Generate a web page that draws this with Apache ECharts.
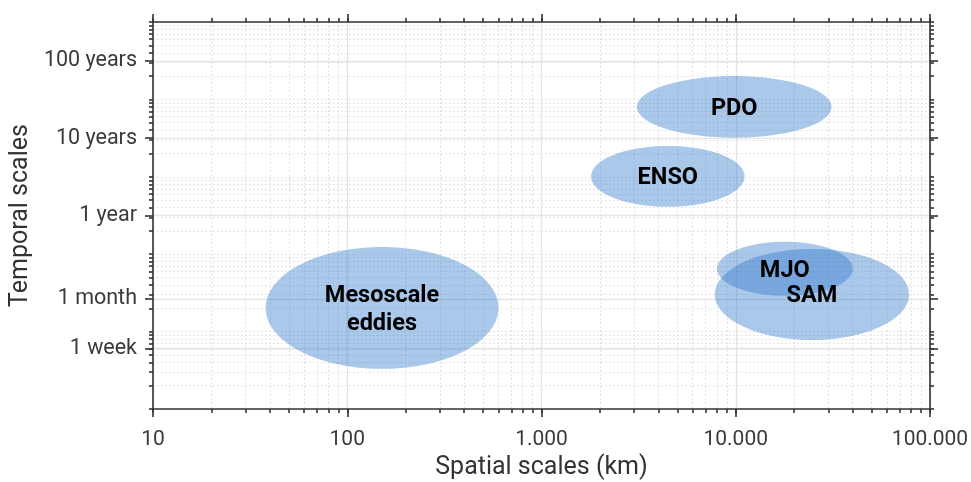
<!DOCTYPE html>
<html>
<head>
<meta charset="utf-8">
<script src="https://cdn.jsdelivr.net/npm/echarts@6/dist/echarts.min.js"></script>
<style>
html,body{margin:0;padding:0;background:#fff;}
#chart{width:971px;height:482px;}
</style>
</head>
<body>
<div id="chart"></div>
<script>
// ---- data ----
const phenomena = ['Mesoscale\neddies', 'ENSO', 'PDO', 'MJO', 'SAM'];
const spaceMinKm = [38, 1800, 3100, 8000, 7800];
const spaceMaxKm = [600, 11100, 31100, 40000, 78000];
const timeMinSec = [3.3e5, 4.1e7, 3.2e8, 2.9e6, 7.8e5];
const timeMaxSec = [1.24e7, 2.5e8, 2.0e9, 1.45e7, 1.17e7];

const xMajorTicks = [10, 100, 1000, 10000, 100000];
const yTickValues = [604800, 2629800, 31557600, 315576000, 3155760000];
const yTickLabels = ['1 week', '1 month', '1 year', '10 years', '100 years'];

const xRange = [10, 100000];
const yRange = [1e5, 1e10];

function logMinor(lo, hi) {
  const out = [];
  for (let k = Math.floor(Math.log10(lo)); k <= Math.ceil(Math.log10(hi)); k++) {
    for (let m = 1; m <= 9; m++) {
      const v = m * Math.pow(10, k);
      if (v >= lo * 0.999 && v <= hi * 1.001) out.push(v);
    }
  }
  return out;
}
const xMinor = logMinor(xRange[0], xRange[1]);
const yMinor = logMinor(yRange[0], yRange[1]);

function fmtThousands(v) {
  return String(Math.round(v)).replace(/\B(?=(\d{3})+(?!\d))/g, '.');
}
function yLabel(v) {
  let best = 0, bd = Infinity;
  yTickValues.forEach((t, i) => { const d = Math.abs(Math.log10(t) - Math.log10(v)); if (d < bd) { bd = d; best = i; } });
  return yTickLabels[best];
}

const AX = '#333333';
const FONT = 'Roboto';
const lineW = 1.6;

const rows = phenomena.map((n, i) => [spaceMinKm[i], spaceMaxKm[i], timeMinSec[i], timeMaxSec[i], n]);

function baseAxis(extra) {
  return Object.assign({
    type: 'log', logBase: 10,
    axisLine: {show: true, lineStyle: {color: AX, width: lineW}},
    axisTick: {show: true, inside: false, length: 8, lineStyle: {color: AX, width: lineW}},
    axisLabel: {show: false},
    splitLine: {show: false},
    minorTick: {show: false},
    minorSplitLine: {show: false}
  }, extra);
}

const option = {
  animation: false,
  backgroundColor: '#ffffff',
  grid: {left: 153, right: 41, top: 22, bottom: 73, containLabel: false, outerBoundsMode: 'none'},
  xAxis: [
    baseAxis({
      position: 'bottom', min: xRange[0], max: xRange[1],
      name: 'Spatial scales (km)', nameLocation: 'middle', nameGap: 46,
      nameTextStyle: {fontFamily: FONT, fontSize: 25, color: AX},
      axisTick: {show: true, inside: false, length: 8, customValues: xMajorTicks, lineStyle: {color: AX, width: lineW}},
      axisLabel: {show: true, customValues: xMajorTicks, margin: 20, fontFamily: FONT, fontSize: 21, color: '#3a3a3a',
        formatter: v => fmtThousands(v)},
      splitLine: {show: true, lineStyle: {color: '#e6e6e6', width: 1.3, type: 'solid'}}
    }),
    baseAxis({
      position: 'bottom', min: xRange[0], max: xRange[1],
      axisLine: {show: false},
      axisTick: {show: true, inside: false, length: 4, customValues: xMinor, lineStyle: {color: AX, width: lineW}},
      splitLine: {show: true, lineStyle: {color: '#dcdcdc', width: 1, type: [1.5, 2.5]}}
    }),
    baseAxis({
      position: 'top', min: xRange[0], max: xRange[1],
      axisTick: {show: true, inside: false, length: 8, customValues: xMajorTicks, lineStyle: {color: AX, width: lineW}}
    }),
    baseAxis({
      position: 'top', min: xRange[0], max: xRange[1],
      axisLine: {show: false},
      axisTick: {show: true, inside: false, length: 4, customValues: xMinor, lineStyle: {color: AX, width: lineW}}
    })
  ],
  yAxis: [
    baseAxis({
      position: 'left', min: yRange[0], max: yRange[1],
      name: 'Temporal scales', nameLocation: 'middle', nameGap: 117, nameRotate: 90,
      nameTextStyle: {fontFamily: FONT, fontSize: 25, color: AX},
      axisTick: {show: true, inside: false, length: 8, customValues: yTickValues, lineStyle: {color: AX, width: lineW}},
      axisLabel: {show: true, customValues: yTickValues, margin: 16, fontFamily: FONT, fontSize: 21.5, color: '#3a3a3a',
        formatter: v => yLabel(v)},
      splitLine: {show: true, lineStyle: {color: '#e6e6e6', width: 1.3, type: 'solid'}}
    }),
    baseAxis({
      position: 'left', min: yRange[0], max: yRange[1],
      axisLine: {show: false},
      axisTick: {show: true, inside: false, length: 4, customValues: yMinor, lineStyle: {color: AX, width: lineW}},
      splitLine: {show: true, lineStyle: {color: '#dcdcdc', width: 1, type: [1.5, 2.5]}}
    }),
    baseAxis({
      position: 'right', min: yRange[0], max: yRange[1],
      axisTick: {show: true, inside: false, length: 8, customValues: yTickValues, lineStyle: {color: AX, width: lineW}}
    }),
    baseAxis({
      position: 'right', min: yRange[0], max: yRange[1],
      axisLine: {show: false},
      axisTick: {show: true, inside: false, length: 4, customValues: yMinor, lineStyle: {color: AX, width: lineW}}
    })
  ],
  series: [
    {
      type: 'custom',
      xAxisIndex: 0, yAxisIndex: 0,
      data: rows,
      z: 5,
      clip: true,
      renderItem: function (params, api) {
        const lx0 = Math.log10(api.value(0)), lx1 = Math.log10(api.value(1));
        const ly0 = Math.log10(api.value(2)), ly1 = Math.log10(api.value(3));
        const cx = (lx0 + lx1) / 2, cy = (ly0 + ly1) / 2, rx = (lx1 - lx0) / 2, ry = (ly1 - ly0) / 2;
        const pts = [];
        const N = 160;
        for (let i = 0; i < N; i++) {
          const t = 2 * Math.PI * i / N;
          pts.push(api.coord([Math.pow(10, cx + rx * Math.cos(t)), Math.pow(10, cy + ry * Math.sin(t))]));
        }
        return {type: 'polygon', shape: {points: pts}, style: {fill: 'rgba(43,117,202,0.4)', stroke: null}};
      }
    },
    {
      type: 'custom',
      xAxisIndex: 0, yAxisIndex: 0,
      data: rows,
      z: 6,
      renderItem: function (params, api) {
        const cx = Math.sqrt(api.value(0) * api.value(1));
        const cy = Math.sqrt(api.value(2) * api.value(3));
        const p = api.coord([cx, cy]);
        return {
          type: 'text', x: p[0], y: p[1] + 2,
          style: {text: rows[params.dataIndex][4], fill: '#000', font: 'bold 23.5px Roboto', align: 'center', verticalAlign: 'middle', lineHeight: 28}
        };
      }
    }
  ]
};

const chart = echarts.init(document.getElementById('chart'), null, {renderer: 'canvas'});
chart.setOption(option);
</script>
</body>
</html>
